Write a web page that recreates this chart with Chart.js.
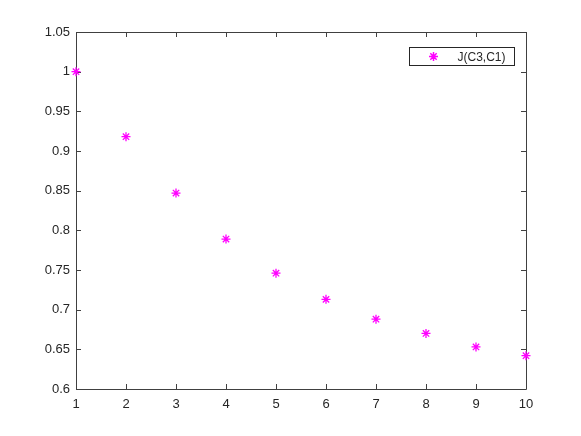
<!DOCTYPE html>
<html>
<head>
<meta charset="utf-8">
<script src="https://cdn.jsdelivr.net/npm/chart.js@4.4.1/dist/chart.umd.min.js"></script>
<style>
  html, body { margin: 0; padding: 0; background: #fff; }
  #wrap { width: 581px; height: 436px; }
</style>
</head>
<body>
<div id="wrap"><canvas id="c" width="581" height="436"></canvas></div>
<script>
// data
const xValues = [1, 2, 3, 4, 5, 6, 7, 8, 9, 10];
const jValues = [1.0, 0.918, 0.847, 0.789, 0.746, 0.713, 0.688, 0.670, 0.653, 0.642];
const xTicks = [1, 2, 3, 4, 5, 6, 7, 8, 9, 10];
const yTicks = [0.6, 0.65, 0.7, 0.75, 0.8, 0.85, 0.9, 0.95, 1, 1.05];
const seriesLabel = 'J(C3,C1)';

const axisColor = '#404040';
const textColor = '#262626';
const marker = '#ff00ff';
const fontFamily = 'Liberation Sans, Arial, sans-serif';

// inward ticks, box and legend, drawn like matlab
const matlabAxes = {
    id: 'matlabAxes',
    beforeDatasetsDraw(chart) {
        const ctx = chart.ctx;
        const a = chart.chartArea;
        const xs = chart.scales.x;
        const ys = chart.scales.y;
        ctx.save();
        ctx.strokeStyle = axisColor;
        ctx.lineWidth = 1;
        ctx.beginPath();
        ctx.rect(Math.round(a.left) + 0.5, Math.round(a.top) + 0.5,
            Math.round(a.right - a.left), Math.round(a.bottom - a.top));
        ctx.stroke();

        ctx.beginPath();
        xs.ticks.forEach((t, i) => {
            const px = Math.round(xs.getPixelForTick(i)) + 0.5;
            ctx.moveTo(px, a.bottom); ctx.lineTo(px, a.bottom - 5);
            ctx.moveTo(px, a.top); ctx.lineTo(px, a.top + 5);
        });
        ys.ticks.forEach((t, i) => {
            const py = Math.round(ys.getPixelForTick(i)) + 0.5;
            ctx.moveTo(a.left, py); ctx.lineTo(a.left + 5, py);
            ctx.moveTo(a.right, py); ctx.lineTo(a.right - 5, py);
        });
        ctx.stroke();
        ctx.restore();
    },
    afterDraw(chart) {
        const ctx = chart.ctx;
        ctx.save();
        // legend box
        const bx = 409.5, by = 47.5, bw = 105, bh = 18;
        ctx.fillStyle = '#fff';
        ctx.fillRect(bx, by, bw, bh);
        ctx.strokeStyle = '#262626';
        ctx.lineWidth = 1;
        ctx.strokeRect(bx, by, bw, bh);
        const ds = chart.data.datasets[0];
        ctx.strokeStyle = ds.borderColor;
        ctx.lineWidth = 1.5;
        ctx.beginPath();
        const cx = bx + 24, cy = by + bh / 2, r = 4.5;
        ctx.moveTo(cx - r, cy); ctx.lineTo(cx + r, cy);
        ctx.moveTo(cx, cy - r); ctx.lineTo(cx, cy + r);
        const d = r * 0.707;
        ctx.moveTo(cx - d, cy - d); ctx.lineTo(cx + d, cy + d);
        ctx.moveTo(cx - d, cy + d); ctx.lineTo(cx + d, cy - d);
        ctx.stroke();
        ctx.fillStyle = textColor;
        ctx.font = '12px ' + fontFamily;
        ctx.textAlign = 'left';
        ctx.textBaseline = 'middle';
        ctx.fillText(seriesLabel, bx + 48, by + bh / 2 + 1);
        ctx.restore();
    }
};

const ctx = document.getElementById('c').getContext('2d');
const chart = new Chart(ctx, {
    type: 'scatter',
    data: {
        datasets: [{
            label: seriesLabel,
            data: xValues.map((x, i) => ({ x: x, y: jValues[i] })),
            pointStyle: 'star',
            pointRadius: 4.5,
            pointBorderWidth: 1.3,
            borderColor: marker,
            backgroundColor: marker,
            showLine: false,
            clip: false
        }]
    },
    options: {
        responsive: false,
        animation: false,
        layout: { padding: { top: 32, right: 55, left: 0, bottom: 0 } },
        plugins: {
            legend: { display: false },
            tooltip: { enabled: false }
        },
        scales: {
            x: {
                type: 'linear',
                min: 1,
                max: 10,
                afterBuildTicks: s => { s.ticks = xTicks.map(v => ({ value: v })); },
                afterFit: s => { s.height = 47; },
                grid: { display: false, drawTicks: false },
                border: { display: false },
                ticks: {
                    color: textColor,
                    padding: 8,
                    maxRotation: 0,
                    font: { family: fontFamily, size: 13 },
                    callback: v => String(v)
                }
            },
            y: {
                min: 0.6,
                max: 1.05,
                afterBuildTicks: s => { s.ticks = yTicks.map(v => ({ value: v })); },
                afterFit: s => { s.width = 76; },
                grid: { display: false, drawTicks: false },
                border: { display: false },
                ticks: {
                    color: textColor,
                    padding: 6,
                    font: { family: fontFamily, size: 13 },
                    callback: v => String(parseFloat(v.toFixed(2)))
                }
            }
        }
    },
    plugins: [matlabAxes]
});
</script>
</body>
</html>
